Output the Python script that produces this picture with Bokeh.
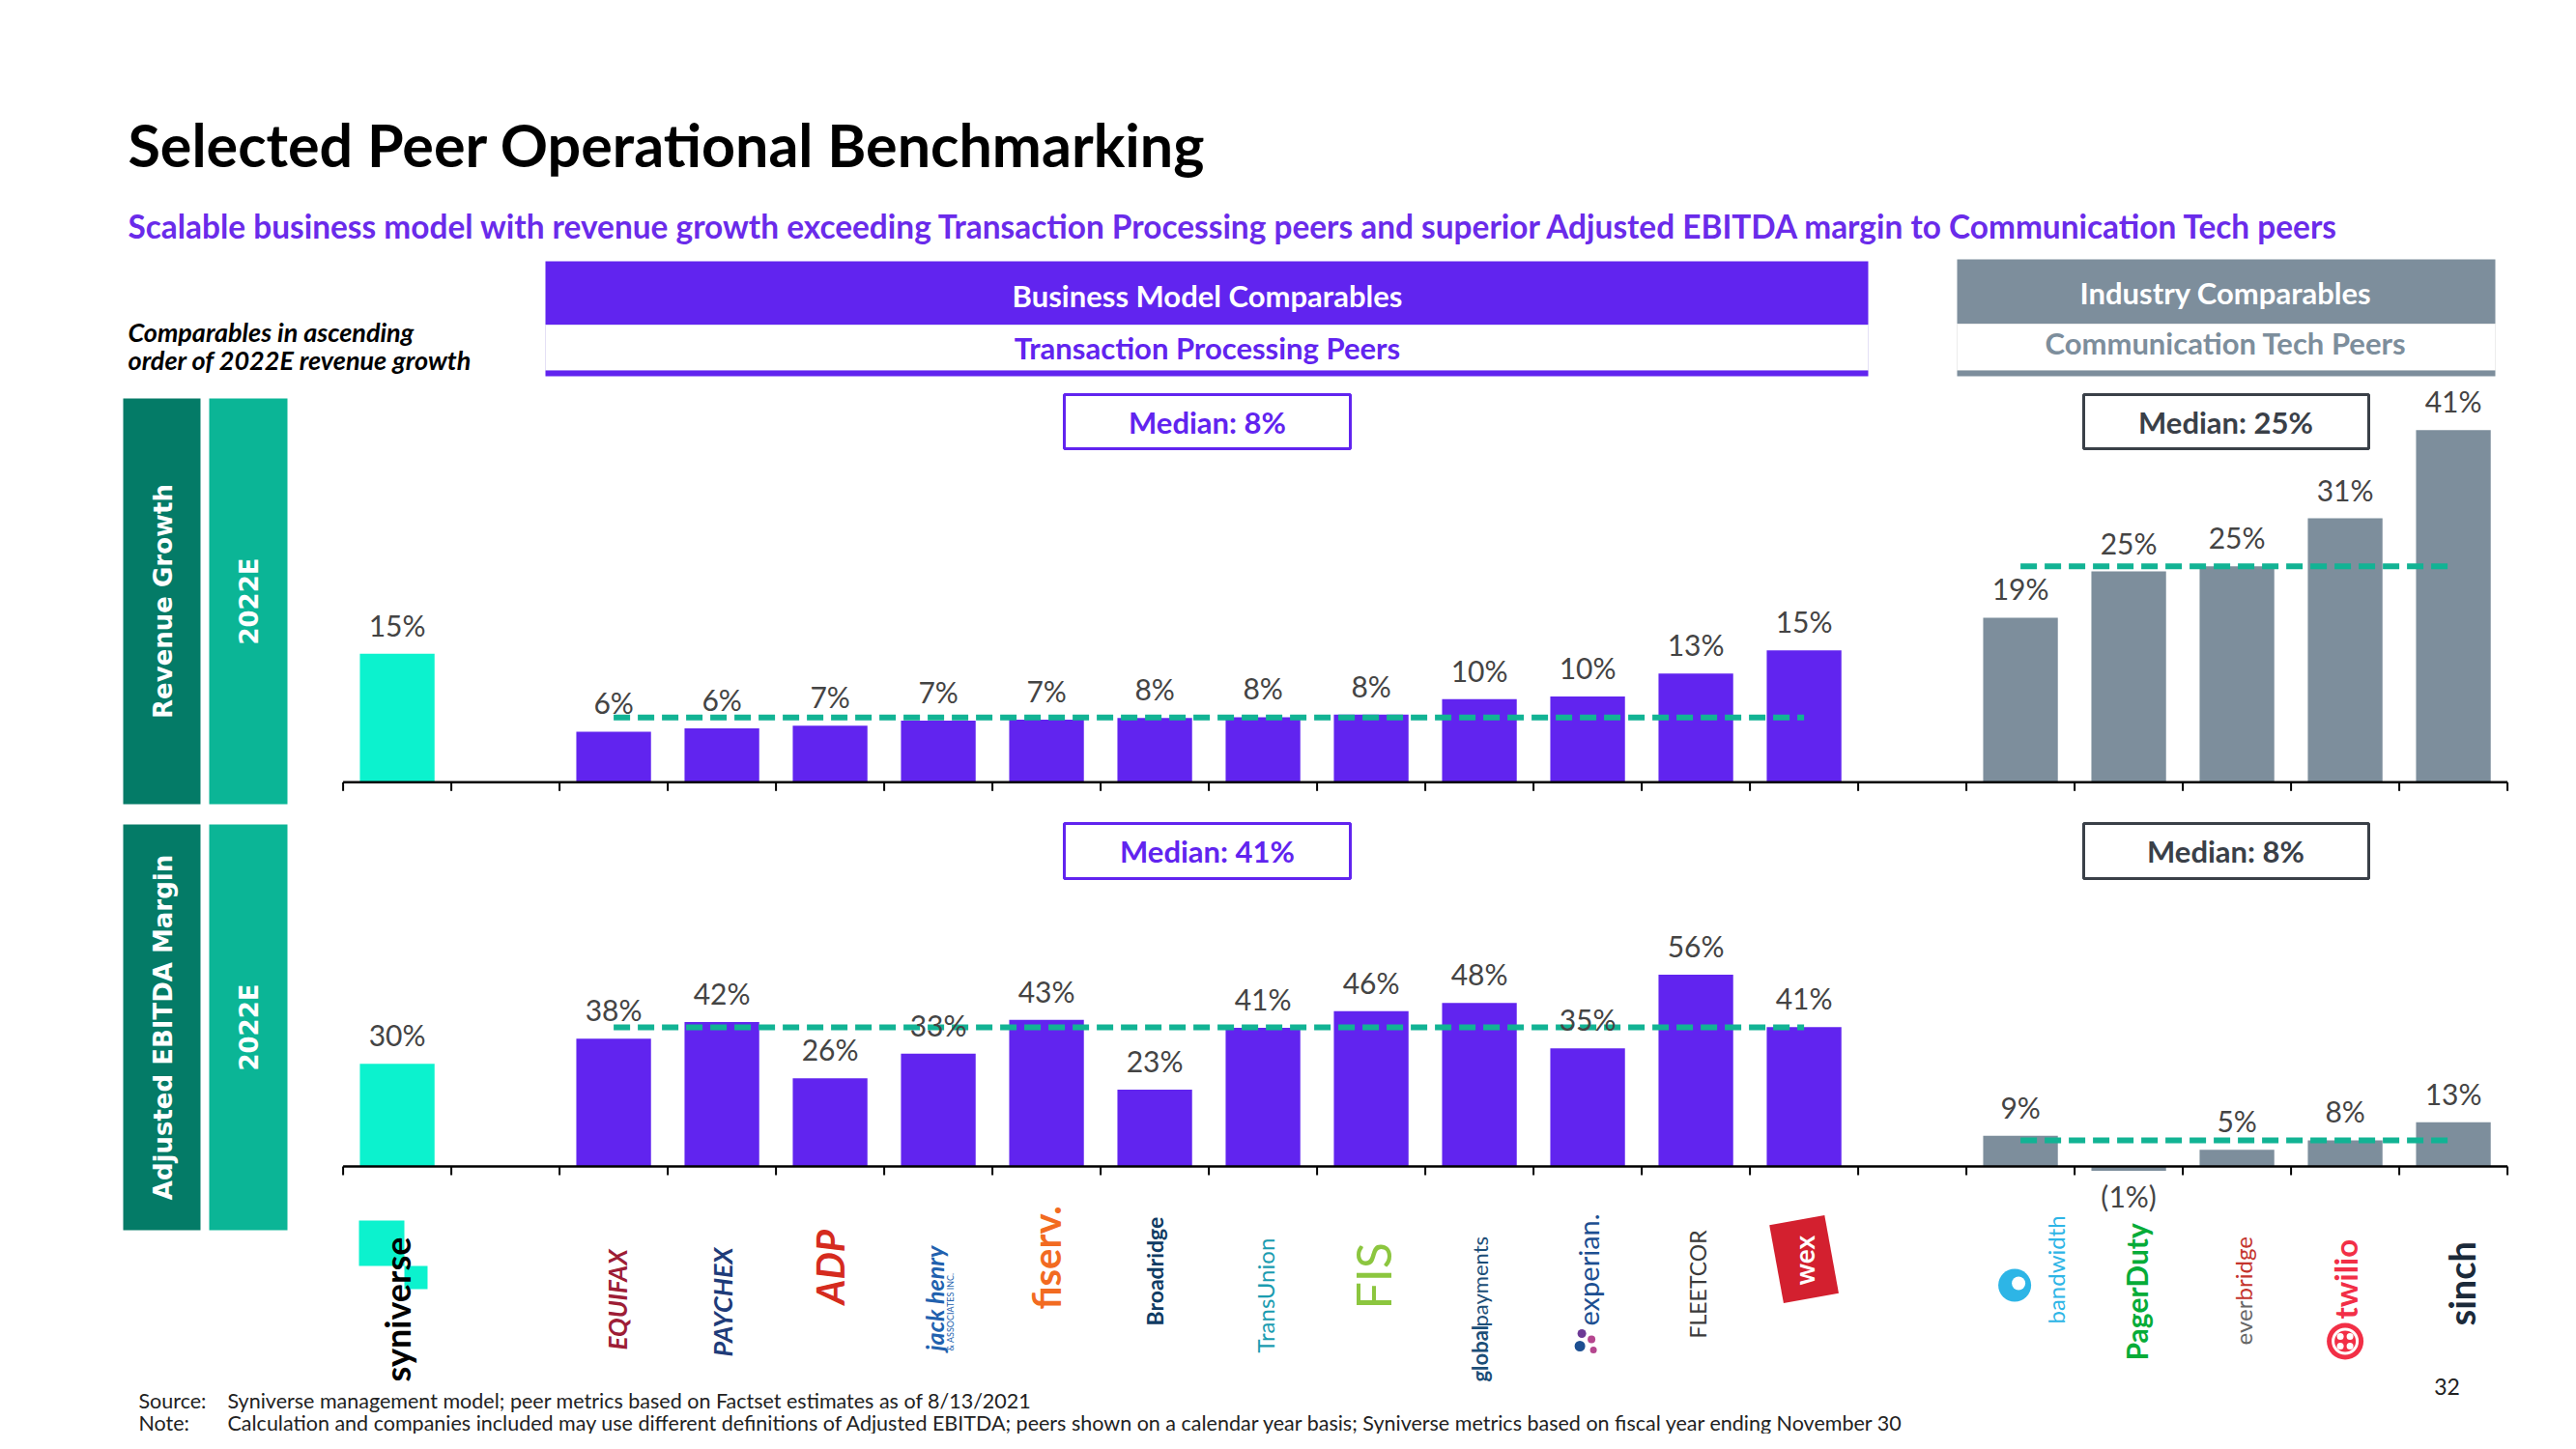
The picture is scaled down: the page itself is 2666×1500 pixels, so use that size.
import math
import numpy as np
from bokeh.plotting import figure
from bokeh.models import Range1d
from bokeh.embed import file_html
from bokeh.resources import INLINE
from bokeh.core.properties import value

# ---------------- data ----------------
syn_name = "Syniverse"
syn_rev = 15.0
syn_ebitda = 30.2

tp_names = ["Equifax", "Paychex", "ADP", "Jack Henry", "Fiserv", "Broadridge",
            "TransUnion", "FIS", "Global Payments", "Experian", "FleetCor", "WEX"]
tp_rev = [5.9, 6.3, 6.6, 7.2, 7.3, 7.5, 7.6, 7.9, 9.7, 10.0, 12.7, 15.4]
tp_ebitda = [37.6, 42.5, 25.9, 33.2, 43.1, 22.6, 40.8, 45.7, 48.1, 34.7, 56.4, 41.0]

ct_names = ["Bandwidth", "PagerDuty", "Everbridge", "Twilio", "Sinch"]
ct_rev = [19.2, 24.6, 25.2, 30.8, 41.1]
ct_ebitda = [9.0, -1.3, 4.9, 7.7, 13.0]

title = "Selected Peer Operational Benchmarking"
subtitle = ("Scalable business model with revenue growth exceeding Transaction Processing peers "
            "and superior Adjusted EBITDA margin to Communication Tech peers")
source_txt = "Syniverse management model; peer metrics based on Factset estimates as of 8/13/2021"
note_txt = ("Calculation and companies included may use different definitions of Adjusted EBITDA; "
            "peers shown on a calendar year basis; Syniverse metrics based on fiscal year ending November 30")

# ---------------- styles / layout ----------------
PURPLE = "#6124EF"
AQUA = "#0CF2CE"
GRAY = "#7D8E9C"
DKGREEN = "#047B67"
LTGREEN = "#0BB596"
TEAL = "#12B394"
LBL = "#444444"
DARK = "#3A4048"
FONT = value("Lato")

W, H = 2650, 1484
p = figure(width=W, height=H, x_range=Range1d(0, W), y_range=Range1d(H, 0),
           output_backend="svg", toolbar_location=None, min_border=0,
           x_axis_type=None, y_axis_type=None, outline_line_color=None)
p.background_fill_color = "white"
p.border_fill_color = "white"

X0, SW = 354.6, 112.0          # left edge of first slot, slot width (px)
BT, PT = 809.3, 8.87           # top panel baseline px, px per %
BB, PB = 1207.0, 3.52          # bottom panel baseline px, px per %
p.extra_x_ranges = {"slot": Range1d((0 - X0) / SW - 0.5, (W - X0) / SW - 0.5)}
p.extra_y_ranges = {"rev": Range1d((BT - H) / PT, BT / PT),
                    "ebitda": Range1d((BB - H) / PB, BB / PB)}

syn_x = [0]
tp_x = [2 + i for i in range(len(tp_names))]
ct_x = [tp_x[-1] + 2 + i for i in range(len(ct_names))]
n_slots = ct_x[-1] + 1


def slot_px(i):
    return X0 + (i + 0.5) * SW


def pct(v):
    return f"({abs(v):.0f}%)" if v < 0 else f"{v:.0f}%"


# ---------------- header ----------------
p.text(x=[132], y=[149], text=[title], text_font=FONT, text_font_style="bold",
       text_font_size="61px", text_color="black", text_baseline="middle")
p.text(x=[132], y=[233], text=[subtitle], text_font=FONT, text_font_style="bold",
       text_font_size="33.4px", text_color="#6A2BEA", text_baseline="middle")
p.text(x=[132, 132], y=[343, 372], text=["Comparables in ascending", "order of 2022E revenue growth"],
       text_font=FONT, text_font_style="bold italic", text_font_size="27px",
       text_color="black", text_baseline="middle")

# Business model band
p.quad(left=[564], right=[1933], top=[270], bottom=[336], fill_color=PURPLE, line_color=None)
p.quad(left=[564], right=[1933], top=[336], bottom=[383], fill_color="white", line_color="#E4E0F5", line_width=1)
p.quad(left=[564], right=[1933], top=[383], bottom=[389], fill_color=PURPLE, line_color=None)
p.text(x=[1249], y=[305], text=["Business Model Comparables"], text_font=FONT, text_font_style="bold",
       text_font_size="31px", text_color="white", text_align="center", text_baseline="middle")
p.text(x=[1249], y=[359], text=["Transaction Processing Peers"], text_font=FONT, text_font_style="bold",
       text_font_size="31px", text_color=PURPLE, text_align="center", text_baseline="middle")
# Industry band
p.quad(left=[2025], right=[2582], top=[268], bottom=[335], fill_color=GRAY, line_color=None)
p.quad(left=[2025], right=[2582], top=[335], bottom=[383], fill_color="white", line_color="#EDEDED", line_width=1)
p.quad(left=[2025], right=[2582], top=[383], bottom=[389], fill_color=GRAY, line_color=None)
p.text(x=[2303], y=[302], text=["Industry Comparables"], text_font=FONT, text_font_style="bold",
       text_font_size="31px", text_color="white", text_align="center", text_baseline="middle")
p.text(x=[2303], y=[354], text=["Communication Tech Peers"], text_font=FONT, text_font_style="bold",
       text_font_size="31px", text_color=GRAY, text_align="center", text_baseline="middle")

# ---------------- left row labels ----------------
for (y0, y1, lab) in [(412, 832, "Revenue Growth"), (853, 1273, "Adjusted EBITDA Margin")]:
    p.quad(left=[127], right=[207], top=[y0], bottom=[y1], fill_color=DKGREEN, line_color=None)
    p.quad(left=[216], right=[297], top=[y0], bottom=[y1], fill_color=LTGREEN, line_color=None)
    ym = (y0 + y1) / 2
    p.text(x=[168], y=[ym], text=[lab], angle=math.pi / 2, text_font=value("DejaVu Sans"),
           text_font_style="bold", text_font_size="26px", text_color="white",
           text_align="center", text_baseline="middle")
    p.text(x=[257], y=[ym], text=["2022E"], angle=math.pi / 2, text_font=value("DejaVu Sans"),
           text_font_style="bold", text_font_size="26px", text_color="white",
           text_align="center", text_baseline="middle")

# ---------------- panels ----------------
panels = [("rev", BT, syn_rev, tp_rev, ct_rev, 408, 464),
          ("ebitda", BB, syn_ebitda, tp_ebitda, ct_ebitda, 852, 909)]
for rname, base_px, sv, tv, cv, by0, by1 in panels:
    # bars
    p.vbar(x=syn_x, top=[sv], bottom=0, width=0.69, fill_color=AQUA, line_color=None,
           x_range_name="slot", y_range_name=rname)
    p.vbar(x=tp_x, top=tv, bottom=0, width=0.69, fill_color=PURPLE, line_color=None,
           x_range_name="slot", y_range_name=rname)
    p.vbar(x=ct_x, top=cv, bottom=0, width=0.69, fill_color=GRAY, line_color=None,
           x_range_name="slot", y_range_name=rname)
    # axis line and ticks
    p.segment(x0=[-0.5], x1=[n_slots - 0.5], y0=[0], y1=[0], line_color="black", line_width=2.5,
              x_range_name="slot", y_range_name=rname)
    bnds = [i - 0.5 for i in range(n_slots + 1)]
    p.segment(x0=bnds, x1=bnds, y0=[base_px] * len(bnds), y1=[base_px + 9] * len(bnds),
              line_color="black", line_width=2, x_range_name="slot")
    # medians
    tmed = float(np.median(tv))
    cmed = float(np.median(cv))
    p.segment(x0=[tp_x[0], ct_x[0]], x1=[tp_x[-1], ct_x[-1]], y0=[tmed, cmed], y1=[tmed, cmed],
              line_color=TEAL, line_width=6, line_dash="17 8", line_cap="butt",
              x_range_name="slot", y_range_name=rname)
    # value labels
    allx = syn_x + tp_x + ct_x
    allv = [sv] + list(tv) + list(cv)
    pos = [(x, v) for x, v in zip(allx, allv) if v >= 0]
    neg = [(x, v) for x, v in zip(allx, allv) if v < 0]
    p.text(x=[a for a, _ in pos], y=[b for _, b in pos], text=[pct(b) for _, b in pos],
           text_font=FONT, text_font_size="30px", text_color=LBL, text_align="center",
           text_baseline="middle", y_offset=-30, x_range_name="slot", y_range_name=rname)
    if neg:
        p.text(x=[a for a, _ in neg], y=[b for _, b in neg], text=[pct(b) for _, b in neg],
               text_font=FONT, text_font_size="30px", text_color=LBL, text_align="center",
               text_baseline="middle", y_offset=26, x_range_name="slot", y_range_name=rname)
    # median boxes
    p.quad(left=[1101], right=[1397], top=[by0], bottom=[by1], fill_color="white",
           line_color=PURPLE, line_width=3)
    p.text(x=[1249], y=[(by0 + by1) / 2], text=[f"Median: {tmed:.0f}%"], text_font=FONT,
           text_font_style="bold", text_font_size="31px", text_color=PURPLE,
           text_align="center", text_baseline="middle")
    p.quad(left=[2156], right=[2451], top=[by0], bottom=[by1], fill_color="white",
           line_color=DARK, line_width=3)
    p.text(x=[2303], y=[(by0 + by1) / 2], text=[f"Median: {cmed:.0f}%"], text_font=FONT,
           text_font_style="bold", text_font_size="31px", text_color=DARK,
           text_align="center", text_baseline="middle")

# ---------------- logos (as text) ----------------
logo_text = ["syniverse", "EQUIFAX", "PAYCHEX", "ADP", "jack henry", "fiserv.", "Broadridge",
             "TransUnion", "FIS", "payments", "experian.", "FLEETCOR", "wex", "bandwidth",
             "PagerDuty", "bridge", "twilio", "sinch"]
logo_slot = syn_x + tp_x + ct_x
# (color, size px, style, bottom px, x offset px)
logo_style = [
    ("black", 36, "bold", 1430, 0),
    ("#9D1D36", 26, "bold italic", 1397, 4),
    ("#1E3B79", 27, "bold italic", 1404, 0),
    ("#D52B1E", 40, "bold italic", 1350, 0),
    ("#2161AE", 25, "bold italic", 1398, -4),
    ("#F26B21", 40, "bold", 1355, 0),
    ("#0F3B63", 23, "bold", 1372, 0),
    ("#1A9CB0", 24, "normal", 1400, 2),
    ("#8CC63F", 50, "normal", 1355, 2),
    ("#1C4E77", 22, "normal", 1373, 0),
    ("#1D4F91", 29, "normal", 1372, 0),
    ("#3B3B3B", 23, "normal", 1385, 2),
    ("white", 28, "bold", 1330, 0),
    ("#2DB5E6", 24, "normal", 1370, 36),
    ("#06AC38", 30, "bold", 1408, 8),
    ("#C4342D", 24, "normal", 1346, 6),
    ("#F22F46", 33, "bold", 1365, 0),
    ("#1B2A3A", 38, "bold", 1372, 8),
]

# small decorative logo shapes (pixel coordinates)
p.quad(left=[371, 418], right=[418, 442], top=[1263, 1310], bottom=[1310, 1334],
       fill_color=AQUA, line_color=None)
p.rect(x=[slot_px(tp_x[-1])], y=[1303], width=[58], height=[82],
       angle=0.18, fill_color="#D3202F", line_color=None)
tw = slot_px(ct_x[3])
p.scatter(x=[tw], y=[1388], size=38, fill_color="#F22F46", line_color=None)
p.scatter(x=[tw], y=[1388], size=28, fill_color="white", line_color=None)
p.scatter(x=[tw], y=[1388], size=22, fill_color="#F22F46", line_color=None)
p.scatter(x=[tw - 5, tw + 5, tw - 5, tw + 5], y=[1383, 1383, 1393, 1393], size=7,
          fill_color="white", line_color=None)
bw = slot_px(ct_x[0])
p.scatter(x=[bw - 6], y=[1330], size=34, fill_color="#2DB5E6", line_color=None)
p.scatter(x=[bw - 2], y=[1328], size=14, fill_color="white", line_color=None)
ex = slot_px(tp_x[9])
p.scatter(x=[ex - 6, ex + 4, ex - 8, ex + 6], y=[1380, 1386, 1393, 1397], size=[9, 8, 11, 7],
          fill_color=["#6D3A96", "#B5468F", "#1D4F91", "#B5468F"], line_color=None)

for t, s, (col, sz, sty, bot, dx) in zip(logo_text, logo_slot, logo_style):
    p.text(x=[s], y=[bot], text=[t], angle=math.pi / 2, text_font=FONT, text_font_style=sty,
           text_font_size=f"{sz}px", text_color=col, text_align="left", text_baseline="middle",
           x_offset=dx, x_range_name="slot")

# extra logo parts
p.text(x=[tp_x[8]], y=[1430], text=["global"], angle=math.pi / 2, text_font=FONT,
       text_font_style="bold", text_font_size="22px", text_color="#1C4E77",
       text_align="left", text_baseline="middle", x_range_name="slot")
p.text(x=[ct_x[2]], y=[1392], text=["ever"], angle=math.pi / 2, text_font=FONT,
       text_font_size="24px", text_color="#666666", text_align="left", text_baseline="middle",
       x_offset=6, x_range_name="slot")
p.text(x=[tp_x[3]], y=[1398], text=["& ASSOCIATES INC."], angle=math.pi / 2, text_font=FONT,
       text_font_size="9px", text_color="#2161AE", text_align="left", text_baseline="middle",
       x_offset=12, x_range_name="slot")

# ---------------- footnotes ----------------
p.text(x=[143, 143], y=[1449, 1472], text=["Source:", "Note:"], text_font=FONT,
       text_font_size="21.5px", text_color="#222222", text_baseline="middle")
p.text(x=[235, 235], y=[1449, 1472], text=[source_txt, note_txt], text_font=FONT,
       text_font_size="21.5px", text_color="#222222", text_baseline="middle")
p.text(x=[2532], y=[1435], text=["32"], text_font=FONT, text_font_size="23px",
       text_color="#222222", text_align="center", text_baseline="middle")

open("out.html", "w").write(file_html(p, INLINE))
